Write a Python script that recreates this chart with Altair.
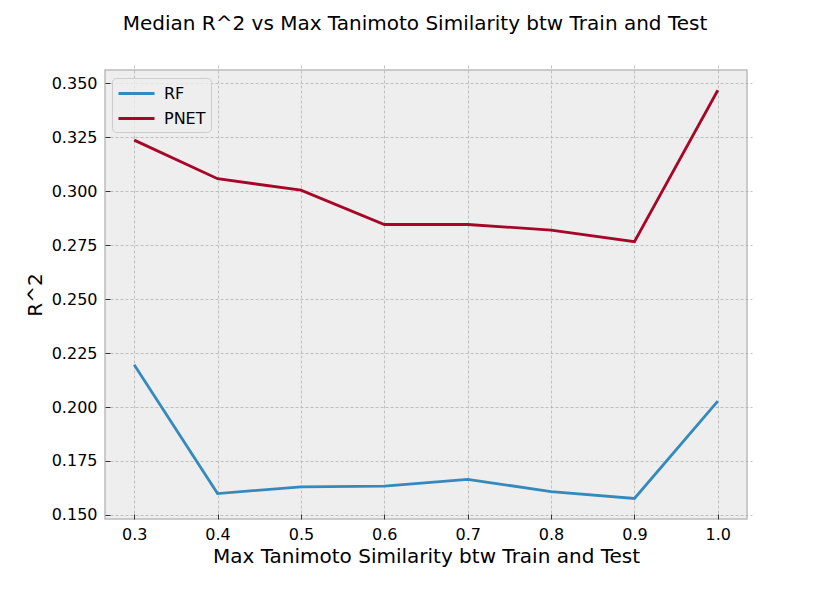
import altair as alt
import pandas as pd

x_vals = [0.3, 0.4, 0.5, 0.6, 0.7, 0.8, 0.9, 1.0]
rf_vals = [0.2196, 0.1599, 0.1630, 0.1633, 0.1665, 0.1608, 0.1576, 0.2027]
pnet_vals = [0.3237, 0.3058, 0.3005, 0.2846, 0.2846, 0.2820, 0.2766, 0.3468]
series_names = ["RF", "PNET"]
series_colors = ["#348ABD", "#A60628"]
y_ticks = [0.150, 0.175, 0.200, 0.225, 0.250, 0.275, 0.300, 0.325, 0.350]

df = pd.DataFrame({
    "x": x_vals + x_vals,
    "value": rf_vals + pnet_vals,
    "series": [series_names[0]] * len(x_vals) + [series_names[1]] * len(x_vals),
})

FONT = "DejaVu Sans"

chart = alt.Chart(df).mark_line(strokeWidth=2.8).encode(
    x=alt.X("x:Q",
            scale=alt.Scale(domain=[0.265, 1.035], nice=False, zero=False),
            axis=alt.Axis(values=x_vals, format=".1f",
                          title="Max Tanimoto Similarity btw Train and Test",
                          labelPadding=7, titlePadding=4)),
    y=alt.Y("value:Q",
            scale=alt.Scale(domain=[0.1481, 0.3562], nice=False, zero=False),
            axis=alt.Axis(values=y_ticks, format=".3f", title="R^2",
                          labelPadding=8, titlePadding=6)),
    color=alt.Color("series:N",
                    scale=alt.Scale(domain=series_names, range=series_colors),
                    legend=alt.Legend(orient="none", legendX=7, legendY=8, title=None,
                                      symbolType="M-1,0L3,0", symbolSize=324,
                                      symbolStrokeWidth=2.8, labelOffset=26,
                                      labelFontSize=16, labelFont=FONT, labelColor="black",
                                      padding=5, rowPadding=6,
                                      fillColor="rgba(238,238,238,0.8)",
                                      strokeColor="#cccccc", cornerRadius=4)),
).properties(
    width=642, height=449,
    autosize="none",
    background="white",
    padding={"left": 97, "top": 62, "right": 75, "bottom": 66},
    title=alt.TitleParams(text="Median R^2 vs Max Tanimoto Similarity btw Train and Test",
                          font=FONT, fontSize=20, fontWeight="normal", color="black",
                          anchor="middle", frame="group", dx=-11, offset=36),
).configure_view(
    fill="#eeeeee", stroke="#bcbcbc", strokeWidth=1.5
).configure_axis(
    domain=False, ticks=True, tickSize=5, offset=-5, tickColor="#333333", tickWidth=1,
    labelFont=FONT, labelFontSize=16, labelColor="black",
    titleFont=FONT, titleFontSize=20, titleFontWeight="normal", titleColor="black",
    grid=True, gridColor="#b2b2b2", gridDash=[3, 2], gridWidth=0.8,
)

chart.save("out.html", embed_options={"renderer": "svg", "actions": False})
